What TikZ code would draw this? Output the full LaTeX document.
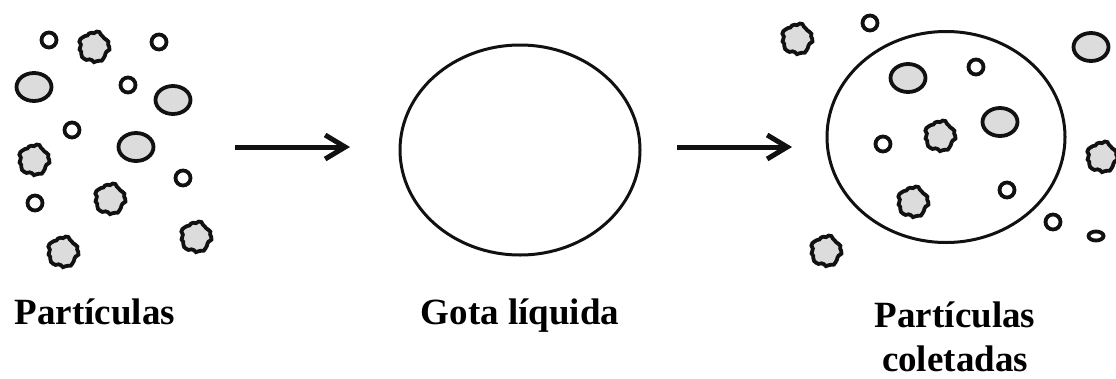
\documentclass[tikz,border=0pt]{standalone}
\usepackage{fontspec}
\setmainfont{Liberation Serif}
\usepackage{tikz}
\usetikzlibrary{arrows.meta,positioning,shapes.geometric}
\definecolor{ink}{HTML}{111111}
\definecolor{dotgray}{HTML}{DCDCDC}
\tikzset{
  ring/.style={draw=ink,line width=3.8pt,fill=white},
  grain/.style={draw=ink,line width=3.8pt,fill=dotgray},
  drop/.style={draw=ink,line width=3pt},
  flowarr/.style={-{Straight Barb[length=20pt,width=24pt]},line width=5pt,color=ink},
  caption/.style={font=\fontsize{37}{44}\selectfont\bfseries,align=center,inner sep=0pt},
  blob/.pic={
    \draw[grain] plot[smooth cycle,domain=0:350,samples=36]
      (\x:{14.5+0.6*sin(9*\x)+0.9*cos(5*\x+30)+0.5*sin(13*\x)});
  }
}

\begin{document}
\begin{tikzpicture}[x=1pt,y=-1pt]
  \useasboundingbox (0,0) rectangle (1116,378);

  % loose particles
  \foreach \px/\py in {49/40,159/42,128/85,72/130,183/178,35/203}
    \draw[ring] (\px,\py) ellipse (7.5 and 7.5);
  \foreach \px/\py in {34/87,173/100,136/147}
    \draw[grain] (\px,\py) ellipse (17.5 and 14);
  \foreach \px/\py in {94/47,34/160,110/199,196/237,63/252}
    \pic at (\px,\py) {blob};

  % droplet
  \node[drop,ellipse,minimum width=240pt,minimum height=210pt] (gota) at (520,150) {};

  % droplet with collected particles
  \node[drop,ellipse,minimum width=238pt,minimum height=211pt] (cheia) at (946,137) {};
  \foreach \px/\py in {870/23,976/67,883/144,1007/190,1053/222}
    \draw[ring] (\px,\py) ellipse (7.5 and 7.5);
  \draw[ring] (1096,236) ellipse (7.5 and 4.5);
  \foreach \px/\py in {1091/47,908/78,1000/122}
    \draw[grain] (\px,\py) ellipse (17.5 and 14);
  \foreach \px/\py in {797/39,1102/157,826/251,940/136,913/202}
    \pic at (\px,\py) {blob};

  % arrows
  \coordinate (a1) at (235,147);
  \coordinate (b1) at (350,147);
  \coordinate (a2) at (677,147);
  \coordinate (b2) at (792,147);
  \draw[flowarr] (a1) -- (b1);
  \draw[flowarr] (a2) -- (b2);

  % labels
  \node[caption,anchor=base] (lbl1) at (95,324) {Partículas};
  \node[caption,anchor=base] (lbl2) at (520,324) {Gota líquida};
  \node[caption,anchor=base] (lbl3) at (955,371) {Partículas\\coletadas};
\end{tikzpicture}
\end{document}
